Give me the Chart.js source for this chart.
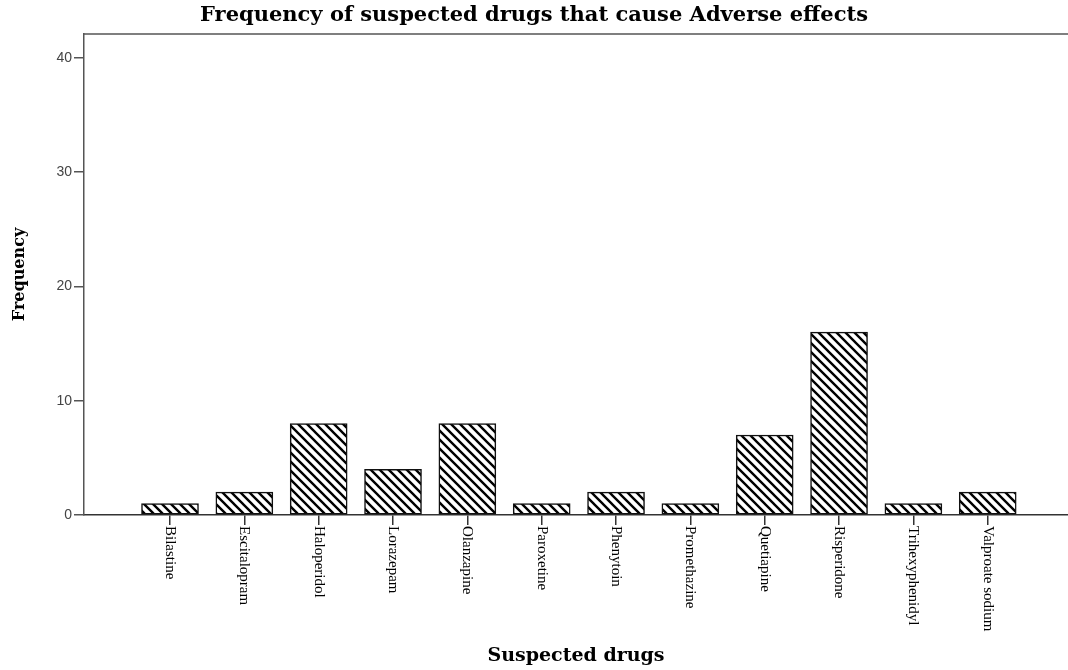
<!DOCTYPE html>
<html>
<head>
<meta charset="utf-8">
<script src="https://cdn.jsdelivr.net/npm/chart.js@4.4.0/dist/chart.umd.min.js"></script>
<style>
  html, body { margin: 0; padding: 0; background: #fff; }
  #wrap { width: 1068px; height: 670px; }
</style>
</head>
<body>
<div id="wrap"><canvas id="drugChart"></canvas></div>
<script>
document.addEventListener('DOMContentLoaded', function () {

// data
const drugs = ['Bilastine', 'Escitalopram', 'Haloperidol', 'Lorazepam', 'Olanzapine', 'Paroxetine',
               'Phenytoin', 'Promethazine', 'Quetiapine', 'Risperidone', 'Trihexyphenidyl', 'Valproate sodium'];
const frequency = [1, 2, 8, 4, 8, 1, 2, 1, 7, 16, 1, 2];
const yTicks = [0, 10, 20, 30, 40];

const titleText = 'Frequency of suspected drugs that cause Adverse effects';
const xTitle = 'Suspected drugs';
const yTitle = 'Frequency';

const serif = '"Liberation Serif", "DejaVu Serif", serif';
const wideSerif = '"DejaVu Serif", serif';
const sans = '"Liberation Sans", Arial, sans-serif';

// diagonal hatch fill, like the spss pattern
function makeHatch() {
  const size = 9;
  const c = document.createElement('canvas');
  c.width = size; c.height = size;
  const g = c.getContext('2d');
  g.fillStyle = '#fff';
  g.fillRect(0, 0, size, size);
  g.strokeStyle = '#000';
  g.lineWidth = 2.4;
  g.beginPath();
  g.moveTo(-2, -2); g.lineTo(size + 2, size + 2);
  g.moveTo(-2, size - 2); g.lineTo(2, size + 2);
  g.moveTo(size - 2, -2); g.lineTo(size + 2, 2);
  g.stroke();
  return g.createPattern(c, 'repeat');
}

// top frame line + rotated category labels (clockwise, like the original)
const extras = {
  id: 'extras',
  afterDraw(chart) {
    const ctx = chart.ctx;
    const area = chart.chartArea;
    const xs = chart.scales.x;
    ctx.save();
    ctx.strokeStyle = '#555';
    ctx.lineWidth = 1.5;
    ctx.beginPath();
    ctx.moveTo(area.left, area.top);
    ctx.lineTo(area.right, area.top);
    ctx.stroke();

    ctx.fillStyle = '#000';
    ctx.font = '15px ' + serif;
    ctx.textAlign = 'left';
    ctx.textBaseline = 'middle';
    drugs.forEach(function (name, i) {
      const px = xs.getPixelForValue(i);
      ctx.save();
      ctx.translate(px, area.bottom + 11);
      ctx.rotate(Math.PI / 2);
      ctx.fillText(name, 0, 0);
      ctx.restore();
    });
    ctx.restore();
  }
};

const ctx = document.getElementById('drugChart').getContext('2d');

new Chart(ctx, {
  type: 'bar',
  data: {
    datasets: [{
      label: 'Frequency',
      data: frequency.map(function (v, i) { return { x: i, y: v }; }),
      backgroundColor: makeHatch(),
      borderColor: '#111',
      borderWidth: 1.5,
      borderSkipped: false,
      barThickness: 57
    }]
  },
  options: {
    responsive: true,
    maintainAspectRatio: false,
    animation: false,
    layout: { padding: { left: 0, right: 0, top: 0, bottom: 0 } },
    scales: {
      x: {
        type: 'linear',
        min: -1.157,
        max: 12.08,
        offset: false,
        afterBuildTicks: function (scale) {
          scale.ticks = drugs.map(function (d, i) { return { value: i }; });
        },
        afterFit: function (scale) { scale.height = 155; },
        ticks: { display: false },
        grid: {
          offset: false,
          drawOnChartArea: false,
          drawTicks: true,
          tickLength: 10,
          color: '#333',
          lineWidth: 1.5
        },
        border: { display: true, color: '#333', width: 1.5 },
        title: {
          display: true,
          text: xTitle,
          color: '#000',
          font: { family: wideSerif, size: 19, weight: 'bold' },
          padding: { top: 0, bottom: 3 }
        }
      },
      y: {
        min: 0,
        max: 42.1,
        afterBuildTicks: function (scale) {
          scale.ticks = yTicks.map(function (v) { return { value: v }; });
        },
        afterFit: function (scale) { scale.width = 84; },
        ticks: {
          color: '#444',
          padding: 2,
          font: { family: sans, size: 14 }
        },
        grid: {
          drawOnChartArea: false,
          drawTicks: true,
          tickLength: 10,
          color: '#555',
          lineWidth: 1.5
        },
        border: { display: true, color: '#555', width: 1.5 },
        title: {
          display: true,
          text: yTitle,
          color: '#000',
          font: { family: wideSerif, size: 16, weight: 'bold' },
          padding: { top: 10, bottom: 0 }
        }
      }
    },
    plugins: {
      legend: { display: false },
      tooltip: { enabled: false },
      title: {
        display: true,
        text: titleText,
        color: '#000',
        font: { family: wideSerif, size: 21, weight: 'bold', lineHeight: 1.2 },
        padding: { top: 3, bottom: 5.8 }
      }
    }
  },
  plugins: [extras]
});

});
</script>
</body>
</html>
